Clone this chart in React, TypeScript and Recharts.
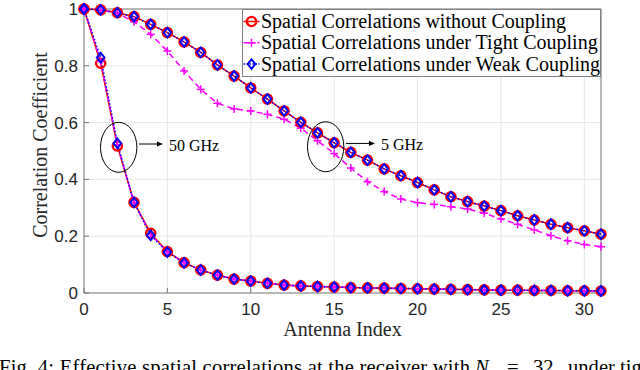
import React from "react";
import {
  LineChart,
  Line,
  XAxis,
  YAxis,
  CartesianGrid,
  ReferenceLine,
  ReferenceDot,
  Legend,
  Label,
} from "recharts";

// ---------- data ----------
const antennaIndex = [
  0, 1, 2, 3, 4, 5, 6, 7, 8, 9, 10, 11, 12, 13, 14, 15, 16, 17, 18, 19, 20,
  21, 22, 23, 24, 25, 26, 27, 28, 29, 30, 31,
];

// 5 GHz
const without5 = [
  1.0, 0.997, 0.987, 0.973, 0.946, 0.917, 0.884, 0.847, 0.803, 0.764, 0.722,
  0.683, 0.641, 0.601, 0.564, 0.529, 0.495, 0.468, 0.437, 0.413, 0.389, 0.363,
  0.339, 0.322, 0.306, 0.29, 0.272, 0.257, 0.242, 0.23, 0.219, 0.207,
];
const tight5 = [
  1.0, 0.997, 0.985, 0.955, 0.911, 0.852, 0.782, 0.717, 0.668, 0.648, 0.641,
  0.629, 0.612, 0.58, 0.536, 0.491, 0.44, 0.392, 0.357, 0.331, 0.318, 0.312,
  0.304, 0.296, 0.281, 0.261, 0.242, 0.222, 0.202, 0.184, 0.171, 0.163,
];
const weak5 = [
  1.0, 0.997, 0.987, 0.973, 0.946, 0.917, 0.884, 0.847, 0.803, 0.764, 0.722,
  0.683, 0.641, 0.601, 0.564, 0.529, 0.495, 0.468, 0.437, 0.413, 0.389, 0.363,
  0.339, 0.322, 0.306, 0.29, 0.272, 0.257, 0.242, 0.23, 0.219, 0.207,
];

// 50 GHz
const without50 = [
  1.0, 0.809, 0.518, 0.319, 0.21, 0.146, 0.107, 0.081, 0.063, 0.049, 0.042,
  0.034, 0.028, 0.025, 0.023, 0.021, 0.019, 0.018, 0.017, 0.016, 0.015, 0.014,
  0.013, 0.012, 0.011, 0.01, 0.01, 0.009, 0.009, 0.008, 0.008, 0.007,
];
const tight50 = [
  1.0, 0.815, 0.522, 0.318, 0.206, 0.145, 0.107, 0.081, 0.063, 0.049, 0.042,
  0.034, 0.028, 0.025, 0.023, 0.021, 0.019, 0.018, 0.017, 0.016, 0.015, 0.014,
  0.013, 0.012, 0.011, 0.01, 0.01, 0.009, 0.009, 0.008, 0.008, 0.007,
];
const weak50 = [
  1.0, 0.829, 0.527, 0.319, 0.203, 0.144, 0.106, 0.081, 0.063, 0.049, 0.042,
  0.034, 0.028, 0.025, 0.023, 0.021, 0.019, 0.018, 0.017, 0.016, 0.015, 0.014,
  0.013, 0.012, 0.011, 0.01, 0.01, 0.009, 0.009, 0.008, 0.008, 0.007,
];

const xTicks = [0, 5, 10, 15, 20, 25, 30];
const yTicks = [0, 0.2, 0.4, 0.6, 0.8, 1];
const yTickLabels = ["0", "0.2", "0.4", "0.6", "0.8", "1"];

const seriesNames = [
  "Spatial Correlations without Coupling",
  "Spatial Correlations under Tight Coupling",
  "Spatial Correlations under Weak Coupling",
];

const annotations = [
  { x: 2.08, y: 0.513, label: "50 GHz" },
  { x: 14.49, y: 0.515, label: "5 GHz" },
];
const annotationArrowLen = [24, 29];

const xLabel = "Antenna Index";
const yLabel = "Correlation Coefficient";
const captionParts = [
  "Fig. 4: Effective spatial correlations at the receiver with",
  "N",
  "r",
  "=",
  "32",
  "under tight coupling",
];

// ---------- table ----------
const rows = antennaIndex.map((idx, i) => ({
  idx,
  w5: without5[i],
  t5: tight5[i],
  k5: weak5[i],
  w50: without50[i],
  t50: tight50[i],
  k50: weak50[i],
}));

// ---------- styles ----------
const RED = "#ff0000";
const MAGENTA = "#ff00ff";
const BLUE = "#0000ff";
const SERIF = "'Liberation Serif', 'Times New Roman', serif";
const SANS = "'Liberation Sans', Arial, Helvetica, sans-serif";
const AXIS = "#7a7a7a";

type Kind = "circle" | "plus" | "diamond";

function Marker({ kind, cx, cy }: { kind: Kind; cx: number; cy: number }) {
  if (cx == null || cy == null) return null;
  if (kind === "circle") {
    return (
      <circle cx={cx} cy={cy} r={4.6} fill="none" stroke={RED} strokeWidth={2.4} />
    );
  }
  if (kind === "plus") {
    const s = 4;
    return (
      <g stroke={MAGENTA} strokeWidth={1.5}>
        <line x1={cx - s} y1={cy} x2={cx + s} y2={cy} />
        <line x1={cx} y1={cy - s} x2={cx} y2={cy + s} />
      </g>
    );
  }
  const hw = 3.8;
  const hh = 4.8;
  return (
    <polygon
      points={`${cx},${cy - hh} ${cx + hw},${cy} ${cx},${cy + hh} ${cx - hw},${cy}`}
      fill="none"
      stroke={BLUE}
      strokeWidth={2}
    />
  );
}

const dotFor = (kind: Kind) => (p: any) =>
  <Marker key={`${kind}-${p.index}-${p.dataKey}`} kind={kind} cx={p.cx} cy={p.cy} />;

const legendStyles = [
  { color: RED, dash: undefined as string | undefined, kind: "circle" as Kind },
  { color: MAGENTA, dash: "5 2", kind: "plus" as Kind },
  { color: BLUE, dash: "1.5 1.5", kind: "diamond" as Kind },
];

function renderLegend() {
  return (
    <svg width={360} height={69} style={{ display: "block", overflow: "visible" }}>
      <rect x={0.5} y={0.5} width={358} height={67} fill="#ffffff" stroke="#808080" strokeWidth={1} />
      {seriesNames.map((name, i) => {
        const cy = 12.5 + i * 21.3;
        const st = legendStyles[i];
        return (
          <g key={name}>
            <line
              x1={1.5}
              y1={cy}
              x2={17.5}
              y2={cy}
              stroke={st.color}
              strokeWidth={1.5}
              strokeDasharray={st.dash}
            />
            <Marker kind={st.kind} cx={9.5} cy={cy} />
            <text
              x={19}
              y={cy + 6.5}
              fontFamily={SERIF}
              fontSize={20}
              fill="#000"
            >
              {name}
            </text>
          </g>
        );
      })}
    </svg>
  );
}

function AnnotationShape(props: any) {
  const { cx, cy, label, arrowLen } = props;
  if (cx == null || cy == null) return null;
  const ay = cy - 3.3;
  const x0 = cx + 20.3;
  const tip = x0 + arrowLen;
  return (
    <g>
      <ellipse cx={cx} cy={cy} rx={18.2} ry={25} fill="none" stroke="#000" strokeWidth={1} />
      <line x1={x0} y1={ay} x2={tip - 5} y2={ay} stroke="#000" strokeWidth={1} />
      <polygon points={`${tip},${ay} ${tip - 6},${ay - 2.6} ${tip - 6},${ay + 2.6}`} fill="#000" />
      <text
        x={tip + 6}
        y={ay + 1.5}
        dominantBaseline="central"
        fontFamily={SERIF}
        fontSize={16}
        fill="#000"
      >
        {label}
      </text>
    </g>
  );
}

function YLabelContent(p: any) {
  const vb = p.viewBox || {};
  const x = vb.x + 26;
  const y = vb.y + vb.height / 2 - 6;
  return (
    <text
      x={x}
      y={y}
      transform={`rotate(-90, ${x}, ${y})`}
      textAnchor="middle"
      dominantBaseline="central"
      fontFamily={SERIF}
      fontSize={20}
      fill="#262626"
    >
      {yLabel}
    </text>
  );
}

function XLabelContent(p: any) {
  const vb = p.viewBox || {};
  return (
    <text
      x={vb.x + vb.width / 2}
      y={vb.y + 43}
      textAnchor="middle"
      fontFamily={SERIF}
      fontSize={20}
      fill="#262626"
    >
      {xLabel}
    </text>
  );
}

const tickStyle = { fill: "#262626", fontSize: 17, fontFamily: SANS };

export default function App() {
  const capY = 374;
  const capFont = 20.6;
  return (
    <div style={{ position: "absolute", left: 0, top: 0, width: 640, height: 370, background: "#fff", overflow: "hidden" }}>
      <LineChart
        width={640}
        height={370}
        data={rows}
        margin={{ top: 9, right: 39, bottom: 27, left: 14 }}
      >
        <CartesianGrid stroke="#e6e6e6" strokeWidth={1} />
        <XAxis
          dataKey="idx"
          type="number"
          domain={[0, 31]}
          ticks={xTicks}
          interval={0}
          height={50}
          stroke={AXIS}
          tickSize={-5}
          tickMargin={15}
          tick={tickStyle}
        >
          <Label content={XLabelContent} />
        </XAxis>
        <YAxis
          type="number"
          domain={[0, 1]}
          ticks={yTicks}
          interval={0}
          width={70}
          stroke={AXIS}
          tickSize={-5}
          tickMargin={11}
          tick={tickStyle}
          tickFormatter={(v: number) => yTickLabels[yTicks.indexOf(v)] ?? String(v)}
        >
          <Label content={YLabelContent} />
        </YAxis>
        <ReferenceLine y={1} stroke={AXIS} strokeWidth={1} />
        <ReferenceLine x={31} stroke={AXIS} strokeWidth={1} />
        <Legend
          layout="horizontal"
          verticalAlign="middle"
          align="center"
          wrapperStyle={{ left: 242, top: 9, width: 360, height: 69 }}
          content={renderLegend}
        />
        <Line dataKey="w5" type="linear" stroke={RED} strokeWidth={1.5} dot={dotFor("circle")} isAnimationActive={false} />
        <Line dataKey="w50" type="linear" stroke={RED} strokeWidth={1.5} dot={dotFor("circle")} isAnimationActive={false} />
        <Line dataKey="t5" type="linear" stroke={MAGENTA} strokeWidth={1.5} strokeDasharray="6 4" dot={dotFor("plus")} isAnimationActive={false} />
        <Line dataKey="t50" type="linear" stroke={MAGENTA} strokeWidth={1.5} strokeDasharray="6 4" dot={dotFor("plus")} isAnimationActive={false} />
        <Line dataKey="k5" type="linear" stroke={BLUE} strokeWidth={1.5} strokeDasharray="1.5 2" dot={dotFor("diamond")} isAnimationActive={false} />
        <Line dataKey="k50" type="linear" stroke={BLUE} strokeWidth={1.5} strokeDasharray="1.5 2" dot={dotFor("diamond")} isAnimationActive={false} />
        {annotations.map((a, i) => (
          <ReferenceDot
            key={a.label}
            x={a.x}
            y={a.y}
            r={0}
            ifOverflow="visible"
            shape={(p: any) => (
              <AnnotationShape cx={p.cx} cy={p.cy} label={a.label} arrowLen={annotationArrowLen[i]} />
            )}
          />
        ))}
      </LineChart>
      <svg
        width={640}
        height={370}
        style={{ position: "absolute", left: 0, top: 0, pointerEvents: "none" }}
      >
        <g fontFamily={SERIF} fontSize={capFont} fill="#000">
          <text x={-1} y={capY} textLength={471} lengthAdjust="spacing">
            {captionParts[0]}
          </text>
          <text x={475} y={capY} fontStyle="italic">
            {captionParts[1]}
          </text>
          <text x={488} y={capY + 4} fontSize={14} fontStyle="italic">
            {captionParts[2]}
          </text>
          <text x={507} y={capY}>
            {captionParts[3]}
          </text>
          <text x={533} y={capY}>
            {captionParts[4]}
          </text>
          <text x={568} y={capY}>
            {captionParts[5]}
          </text>
        </g>
      </svg>
    </div>
  );
}
